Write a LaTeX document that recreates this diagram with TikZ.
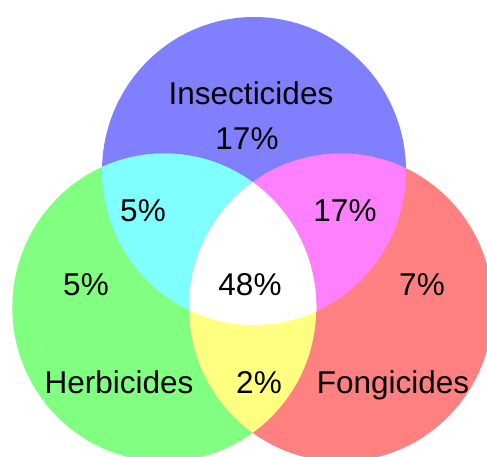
\documentclass[tikz,border=0pt]{standalone}
\usepackage{fontspec}
\setmainfont{Liberation Sans}
\usepackage{tikz}

\definecolor{insect}{HTML}{8080FF}
\definecolor{herb}{HTML}{80FF80}
\definecolor{fong}{HTML}{FF8080}
\definecolor{insectherb}{HTML}{80FFFF}
\definecolor{insectfong}{HTML}{FF80FF}
\definecolor{herbfong}{HTML}{FFFF80}
\newcommand{\radx}{152pt}
\newcommand{\rady}{154pt}

\begin{document}
\begin{tikzpicture}[
    x=1pt, y=-1pt,
    share/.style={font=\fontsize{31.5}{36}\selectfont, inner sep=0pt, anchor=base}
]
    \useasboundingbox (0,0) rectangle (487,457);
    \clip (0,0) rectangle (487,457);

    % circle centres
    \coordinate (I) at (254,171);
    \coordinate (H) at (164.3,307.5);
    \coordinate (F) at (341,307.5);

    % the three sets
    \fill[insect] (I) ellipse[x radius=\radx, y radius=\rady];
    \fill[herb] (H) ellipse[x radius=\radx, y radius=\rady];
    \fill[fong] (F) ellipse[x radius=\radx, y radius=\rady];

    % two at a time
    \begin{scope}
        \clip (H) ellipse[x radius=\radx, y radius=\rady];
        \fill[insectherb] (I) ellipse[x radius=\radx, y radius=\rady];
    \end{scope}
    \begin{scope}
        \clip (F) ellipse[x radius=\radx, y radius=\rady];
        \fill[insectfong] (I) ellipse[x radius=\radx, y radius=\rady];
    \end{scope}
    \begin{scope}
        \clip (F) ellipse[x radius=\radx, y radius=\rady];
        \fill[herbfong] (H) ellipse[x radius=\radx, y radius=\rady];
    \end{scope}

    % all three
    \begin{scope}
        \clip (H) ellipse[x radius=\radx, y radius=\rady];
        \clip (F) ellipse[x radius=\radx, y radius=\rady];
        \fill[white] (I) ellipse[x radius=\radx, y radius=\rady];
    \end{scope}

    % labels
    \node[share] (insname) at (251,105) {Insecticides};
    \node[share] (ins) at (247,150) {17\%};
    \node[share] (insherb) at (143,222) {5\%};
    \node[share] (insfong) at (345,222) {17\%};
    \node[share] (herb) at (86,295) {5\%};
    \node[share] (all) at (250,295) {48\%};
    \node[share] (fong) at (422,295) {7\%};
    \node[share] (herbname) at (119,393) {Herbicides};
    \node[share] (herbfong) at (259,393) {2\%};
    \node[share] (fongname) at (393,393) {Fongicides};
\end{tikzpicture}
\end{document}
